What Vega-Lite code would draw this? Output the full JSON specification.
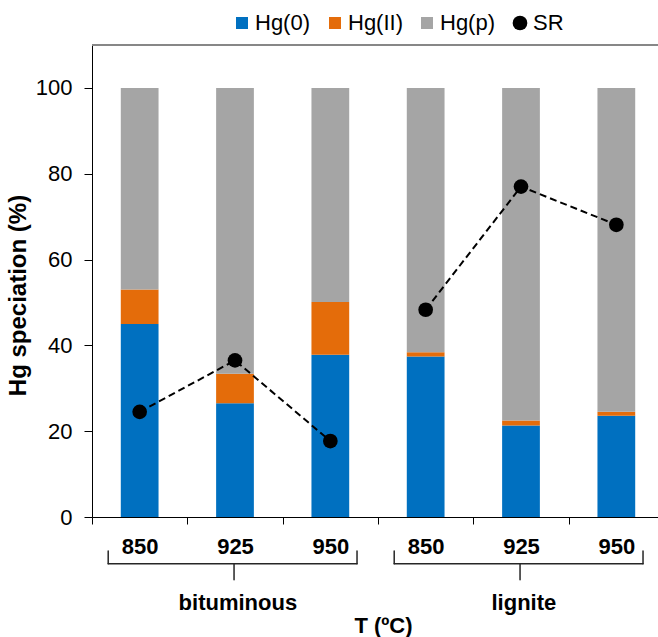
{
  "$schema": "https://vega.github.io/schema/vega-lite/v6.json",
  "width": 566,
  "height": 472,
  "autosize": {"type": "none"},
  "padding": {"left": 92, "top": 45, "right": 0, "bottom": 120},
  "config": {
    "font": "Liberation Sans",
    "view": {"stroke": null},
    "axis": {"grid": false, "domainColor": "#000000", "tickColor": "#000000", "labelColor": "#000000", "titleColor": "#000000"}
  },
  "datasets": {
    "bars": [
      {"id": "b850", "species": "Hg(0)", "value": 45.0},
      {"id": "b850", "species": "Hg(II)", "value": 8.0},
      {"id": "b850", "species": "Hg(p)", "value": 47.0},
      {"id": "b925", "species": "Hg(0)", "value": 26.5},
      {"id": "b925", "species": "Hg(II)", "value": 6.9},
      {"id": "b925", "species": "Hg(p)", "value": 66.6},
      {"id": "b950", "species": "Hg(0)", "value": 37.8},
      {"id": "b950", "species": "Hg(II)", "value": 12.3},
      {"id": "b950", "species": "Hg(p)", "value": 49.9},
      {"id": "l850", "species": "Hg(0)", "value": 37.4},
      {"id": "l850", "species": "Hg(II)", "value": 1.0},
      {"id": "l850", "species": "Hg(p)", "value": 61.6},
      {"id": "l925", "species": "Hg(0)", "value": 21.3},
      {"id": "l925", "species": "Hg(II)", "value": 1.2},
      {"id": "l925", "species": "Hg(p)", "value": 77.5},
      {"id": "l950", "species": "Hg(0)", "value": 23.6},
      {"id": "l950", "species": "Hg(II)", "value": 0.9},
      {"id": "l950", "species": "Hg(p)", "value": 75.5}
    ],
    "sr": [
      {"id": "b850", "group": "bituminous", "SR": 24.5},
      {"id": "b925", "group": "bituminous", "SR": 36.5},
      {"id": "b950", "group": "bituminous", "SR": 17.7},
      {"id": "l850", "group": "lignite", "SR": 48.3},
      {"id": "l925", "group": "lignite", "SR": 77.0},
      {"id": "l950", "group": "lignite", "SR": 68.1}
    ],
    "braces": [
      {"group": "bituminous", "first": "b850", "mid": "b925", "last": "b950"},
      {"group": "lignite", "first": "l850", "mid": "l925", "last": "l950"}
    ]
  },
  "layer": [
    {
      "data": {"name": "bars"},
      "mark": {"type": "bar", "width": {"band": 0.396}},
      "encoding": {
        "x": {
          "field": "id", "type": "nominal",
          "scale": {"domain": ["b850", "b925", "b950", "l850", "l925", "l950"], "range": [0, 572], "paddingInner": 0, "paddingOuter": 0},
          "axis": {
            "title": "T (ºC)", "titleFontSize": 22, "titleFontWeight": "bold", "titleX": 291, "titleY": 115, "titleBaseline": "alphabetic", "titleAnchor": "middle", "titleAlign": "center",
            "labelExpr": "substring(datum.label, 1)", "labelAngle": 0, "labelFontSize": 22, "labelFontWeight": "bold", "labelBaseline": "alphabetic", "labelPadding": 29,
            "tickBand": "extent", "tickSize": 7, "domainWidth": 1
          }
        },
        "y": {
          "field": "value", "type": "quantitative", "stack": "zero",
          "scale": {"domain": [0, 110], "nice": false},
          "axis": {
            "values": [0, 20, 40, 60, 80, 100], "tickSize": 8, "labelPadding": 12, "labelFontSize": 22,
            "title": "Hg speciation (%)", "titleFontSize": 24, "titleFontWeight": "bold", "titleX": -67, "titleY": 250, "titleBaseline": "alphabetic", "titleAngle": -90, "titleAnchor": "middle", "titleAlign": "center"
          }
        },
        "color": {
          "field": "species", "type": "nominal",
          "scale": {"domain": ["Hg(0)", "Hg(II)", "Hg(p)", "SR"], "range": ["#0070C0", "#E46C0A", "#A5A5A5", "#000000"]},
          "legend": {
            "title": null, "orient": "none", "direction": "horizontal", "legendX": 139, "legendY": -33, "gridAlign": "none",
            "labelFontSize": 22, "labelOffset": 2, "columnPadding": 13, "symbolType": "square", "symbolSize": 144, "symbolStrokeWidth": 0,
            "encode": {"symbols": {"update": {"shape": {"signal": "datum.value === 'SR' ? 'circle' : 'square'"}, "size": {"signal": "datum.value === 'SR' ? 216 : 144"}}}}
          }
        },
        "order": {"field": "species", "sort": "ascending"}
      }
    },
    {
      "data": {"name": "sr"},
      "mark": {"type": "line", "color": "#000000", "strokeWidth": 2, "strokeDash": [7, 4]},
      "encoding": {
        "x": {"field": "id", "type": "nominal"},
        "y": {"field": "SR", "type": "quantitative"},
        "detail": {"field": "group"}
      }
    },
    {
      "data": {"name": "sr"},
      "mark": {"type": "point", "filled": true, "shape": "circle", "size": 216, "opacity": 1},
      "encoding": {
        "x": {"field": "id", "type": "nominal"},
        "y": {"field": "SR", "type": "quantitative"},
        "color": {"datum": "SR"}
      }
    },
    {
      "data": {"values": [{}]},
      "mark": {"type": "rule", "color": "#878787", "strokeWidth": 2},
      "encoding": {"y": {"datum": 110}}
    },
    {
      "data": {"name": "braces"},
      "mark": {"type": "rule", "color": "#262626", "strokeWidth": 1.5, "strokeCap": "round"},
      "encoding": {
        "x": {"field": "first", "type": "nominal", "bandPosition": 0.17},
        "x2": {"field": "last", "bandPosition": 0.78},
        "y": {"datum": -10.9}
      }
    },
    {
      "data": {"name": "braces"},
      "mark": {"type": "rule", "color": "#262626", "strokeWidth": 1.5, "strokeCap": "round"},
      "encoding": {
        "x": {"field": "first", "type": "nominal", "bandPosition": 0.17},
        "y": {"datum": -10.9},
        "y2": {"datum": -7.9}
      }
    },
    {
      "data": {"name": "braces"},
      "mark": {"type": "rule", "color": "#262626", "strokeWidth": 1.5, "strokeCap": "round"},
      "encoding": {
        "x": {"field": "last", "type": "nominal", "bandPosition": 0.78},
        "y": {"datum": -10.9},
        "y2": {"datum": -7.9}
      }
    },
    {
      "data": {"name": "braces"},
      "mark": {"type": "rule", "color": "#262626", "strokeWidth": 1.5, "strokeCap": "round"},
      "encoding": {
        "x": {"field": "mid", "type": "nominal", "bandPosition": 0.49},
        "y": {"datum": -10.9},
        "y2": {"datum": -14.6}
      }
    },
    {
      "data": {"name": "braces"},
      "mark": {"type": "text", "fontSize": 22, "fontWeight": "bold", "baseline": "alphabetic", "align": "center", "color": "#000000"},
      "encoding": {
        "x": {"field": "mid", "type": "nominal", "bandPosition": 0.53},
        "y": {"datum": -21.7},
        "text": {"field": "group"}
      }
    }
  ]
}
